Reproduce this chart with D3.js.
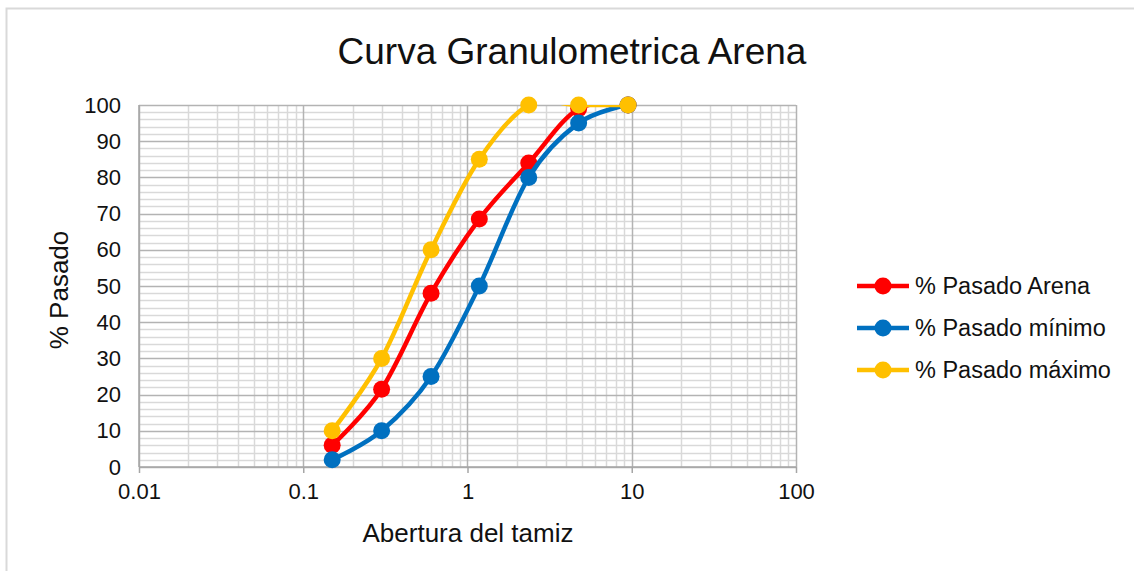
<!DOCTYPE html>
<html>
<head>
<meta charset="utf-8">
<script src="https://cdn.jsdelivr.net/npm/d3@7"></script>
<style>
  html, body { margin: 0; padding: 0; background: #fff; }
  svg { display: block; font-family: "Liberation Sans", Arial, sans-serif; }
</style>
</head>
<body>
<svg id="chart" width="1134" height="571"></svg>
<script>
// ---- data ----
const sieves = [0.15, 0.3, 0.6, 1.18, 2.36, 4.75, 9.5];
const pasadoArena = [6, 21.5, 48, 68.5, 84, 99, 100];
const pasadoMinimo = [2, 10, 25, 50, 80, 95, 100];
const pasadoMaximo = [10, 30, 60, 85, 100, 100, 100];
const seriesNames = ["% Pasado Arena", "% Pasado mínimo", "% Pasado máximo"];
const seriesColors = ["#FF0000", "#0070C0", "#FFC000"];
const xTickValues = [0.01, 0.1, 1, 10, 100];
const xTickLabels = ["0.01", "0.1", "1", "10", "100"];
const yTickValues = [0, 10, 20, 30, 40, 50, 60, 70, 80, 90, 100];

// ---- layout ----
const svg = d3.select("#chart");
const L = 139, R = 796, T = 105, B = 467;
const x = d3.scaleLog().domain([0.01, 100]).range([L, R]);
const y = d3.scaleLinear().domain([0, 100]).range([B, T]);

// chart frame
svg.append("rect").attr("x", 6.5).attr("y", 8.5).attr("width", 1140).attr("height", 620)
  .attr("fill", "#fff").attr("stroke", "#d9d9d9").attr("stroke-width", 2);

svg.append("defs").append("clipPath").attr("id", "plotclip")
  .append("rect").attr("x", L).attr("y", T).attr("width", R - L).attr("height", B - T);

// minor gridlines
const minorX = [];
for (let d = 0.01; d < 100; d *= 10) for (let k = 2; k <= 9; k++) minorX.push(+(d * k).toPrecision(3));
const minorY = d3.range(0, 101, 2).filter(v => v % 10 !== 0);
const grid = svg.append("g");
grid.selectAll(".mx").data(minorX).join("line")
  .attr("x1", d => Math.round(x(d)) + 0.5).attr("x2", d => Math.round(x(d)) + 0.5)
  .attr("y1", T).attr("y2", B).attr("stroke", "#d9d9d9").attr("stroke-width", 1.5);
grid.selectAll(".my").data(minorY).join("line")
  .attr("x1", L).attr("x2", R)
  .attr("y1", d => Math.round(y(d)) + 0.5).attr("y2", d => Math.round(y(d)) + 0.5)
  .attr("stroke", "#d9d9d9").attr("stroke-width", 1.5);
// major gridlines
grid.selectAll(".Mx").data(xTickValues).join("line")
  .attr("x1", d => Math.round(x(d)) + 0.5).attr("x2", d => Math.round(x(d)) + 0.5)
  .attr("y1", T).attr("y2", B).attr("stroke", "#b3b3b3").attr("stroke-width", 1.5);
grid.selectAll(".My").data(yTickValues).join("line")
  .attr("x1", L).attr("x2", R)
  .attr("y1", d => Math.round(y(d)) + 0.5).attr("y2", d => Math.round(y(d)) + 0.5)
  .attr("stroke", "#b3b3b3").attr("stroke-width", 1.5);

// axes
const xAxis = svg.append("g").attr("transform", `translate(0,${B})`)
  .call(d3.axisBottom(x).tickValues(xTickValues).tickFormat((d, i) => xTickLabels[i]).tickSize(6).tickPadding(10));
const yAxis = svg.append("g").attr("transform", `translate(${L},0)`)
  .call(d3.axisLeft(y).tickValues(yTickValues).tickSize(0).tickPadding(18));
[xAxis, yAxis].forEach(a => {
  a.select(".domain").attr("stroke", "#a6a6a6").attr("stroke-width", 1.5);
  a.selectAll(".tick line").attr("stroke", "#a6a6a6").attr("stroke-width", 1.5);
  a.selectAll("text").attr("fill", "#111").style("font-size", "22px")
    .style("font-family", "'Liberation Sans', Arial, sans-serif");
});
yAxis.select(".domain").attr("d", `M0,${T}V${B}`);
xAxis.select(".domain").attr("d", `M${L},0H${R}`);

// series
const series = [pasadoArena, pasadoMinimo, pasadoMaximo];
const line = d3.line().x(d => x(d[0])).y(d => y(d[1])).curve(d3.curveCardinal.tension(0));
series.forEach((vals, i) => {
  const pts = sieves.map((s, j) => [s, vals[j]]);
  const g = svg.append("g");
  g.append("path").attr("d", line(pts)).attr("fill", "none").attr("clip-path", "url(#plotclip)")
    .attr("stroke", seriesColors[i]).attr("stroke-width", 4.5).attr("stroke-linejoin", "round");
  g.selectAll("circle").data(pts).join("circle")
    .attr("cx", d => x(d[0])).attr("cy", d => y(d[1])).attr("r", 8.5)
    .attr("fill", seriesColors[i]);
});

// title
svg.append("text").attr("x", 572).attr("y", 64).attr("text-anchor", "middle")
  .style("font-size", "37px").attr("fill", "#111").text("Curva Granulometrica Arena");
// axis titles
svg.append("text").attr("x", 468).attr("y", 542).attr("text-anchor", "middle")
  .style("font-size", "26px").attr("fill", "#111").text("Abertura del tamiz");
svg.append("text").attr("transform", "translate(68,290) rotate(-90)").attr("text-anchor", "middle")
  .style("font-size", "26px").attr("fill", "#111").text("% Pasado");

// legend
const legY = [286, 328, 370];
seriesNames.forEach((name, i) => {
  const g = svg.append("g").attr("transform", `translate(0,${legY[i]})`);
  g.append("line").attr("x1", 857).attr("x2", 909).attr("y1", 0).attr("y2", 0)
    .attr("stroke", seriesColors[i]).attr("stroke-width", 4.5);
  g.append("circle").attr("cx", 883).attr("cy", 0).attr("r", 8.5).attr("fill", seriesColors[i]);
  g.append("text").attr("x", 915).attr("y", 8).style("font-size", "23.5px").attr("fill", "#111").text(name);
});
</script>
</body>
</html>
